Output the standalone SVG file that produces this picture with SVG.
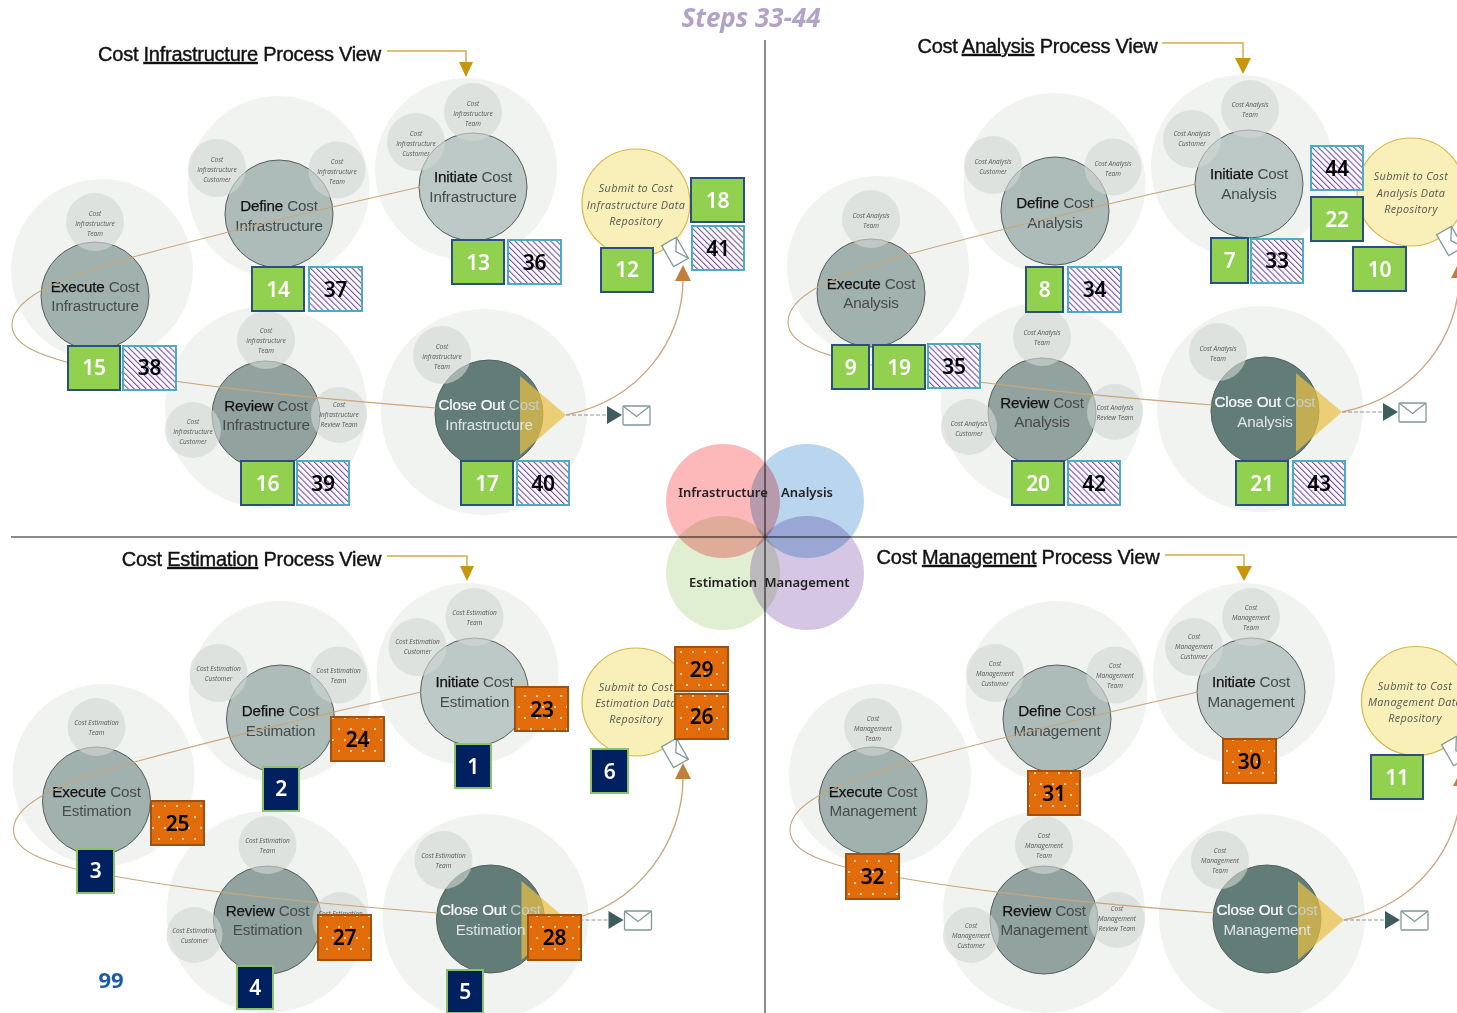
<svg xmlns="http://www.w3.org/2000/svg" width="1457" height="1013" viewBox="0 0 1457 1013">
<style>
text{font-family:"Liberation Sans",Arial,sans-serif;text-anchor:middle}
.h{fill:#f1f3f1}
.s{fill:#d2d6d4;opacity:.62}
.m{stroke:#565f5d;stroke-width:1}
.ex{fill:#a1b1ae}.de{fill:#aebcb9}.in{fill:#bdc9c6}.re{fill:#92a29f}.cl{fill:#627d78}
.t{font-size:15.2px;fill:#454b4a;letter-spacing:-.15px}
.t .k{fill:#111;stroke:#111;stroke-width:.25px}
.w{fill:#dfe6e4}.w .k{fill:#fff;stroke:#fff;stroke-width:.2px}.w .f{fill:#c4cfca}
.c{font-family:"Open Sans","Liberation Sans",sans-serif;font-size:6.5px;font-style:italic;fill:#555}
.tri{fill:#e9bf45;opacity:.72}
.sub{fill:#f8f0b8;stroke:#d8b84c;stroke-width:1.2}
.st{font-family:"Open Sans","Liberation Sans",sans-serif;font-size:10.8px;font-style:italic;fill:#555;letter-spacing:.35px}
.env{fill:#fff;stroke:#7f9a98;stroke-width:1.3}
.flow{fill:none;stroke:#c9a679;stroke-width:1.1}
.dash{fill:none;stroke:#8a9896;stroke-width:1;stroke-dasharray:4 2}
.hd{fill:#c17f3c}.dk{fill:#3f5d5c}
.arc{fill:none;stroke:#cfa67f;stroke-width:1.4}
.ttl{font-size:20px;fill:#111;stroke:#111;stroke-width:.4px;letter-spacing:-.25px}
.u{text-decoration:underline}
.gold{fill:none;stroke:#d3ad4a;stroke-width:1.5}
.goldh{fill:#c8960c}
.axis{stroke:#666;stroke-width:1.5}
.vn{mix-blend-mode:multiply}
.vt{font-family:"Noto Sans","Open Sans",sans-serif;font-size:13px;font-weight:600;fill:#222}
.b text{font-family:"Noto Sans","Open Sans",sans-serif;font-size:21px;font-weight:600;letter-spacing:-.3px}
.g rect{fill:#92d050;stroke:#2a5082;stroke-width:2}.g text{fill:#fff}
.p rect{fill:url(#hatch);stroke:#4bacc6;stroke-width:2}.p text{fill:#000}
.o rect{fill:url(#dots);stroke:#a0500f;stroke-width:2}.o text{fill:#000}
.n rect{fill:#002060;stroke:#8cc168;stroke-width:2}.n text{fill:#fff}
</style>
<defs>
<pattern id="hatch" width="4.2" height="4.2" patternUnits="userSpaceOnUse" patternTransform="rotate(-45)"><rect width="4.2" height="4.2" fill="#fff"/><rect width="1.1" height="4.2" fill="#7a50a8"/></pattern>
<pattern id="dots" width="12" height="22" patternUnits="userSpaceOnUse"><rect width="12" height="22" fill="#e36c0a"/><circle cx="3" cy="3" r=".9" fill="#fff"/><circle cx="9" cy="14" r=".9" fill="#fff"/></pattern>
<g id="envelope"><rect x="-13.5" y="-9.5" width="27" height="19" rx="1" class="env"/><path d="M-13.5-9.5 0 1 13.5-9.5" class="env" style="fill:none"/></g>
<g id="docenv"><rect x="-8.5" y="-12" width="17" height="24" class="env"/><path d="M8.5-12 1 0 8.5 12" class="env" style="fill:none"/></g>
<g id="flowset">
<path class="flow" d="M420,187C330,207 240,228 133,257C70,275 12,295 12,325C12,345 40,355 70,363C180,386 310,398 436,408"/>
<path class="dash" d="M566,415H607"/>
<path class="dk" d="M607,406 622,415 607,424Z"/>
<use href="#envelope" x="636.5" y="415.5"/>
</g>
<g id="arcset">
<path class="arc" d="M566,415C640,400 683,340 683,280"/>
<path class="hd" d="M683,265 691,281 675,281Z"/>
</g>
</defs>

<g id="axes"><line class="axis" x1="765" y1="40" x2="765" y2="1013"/><line class="axis" x1="11" y1="537" x2="1457" y2="537"/></g>
<text x="751" y="27" style="font-family:'Open Sans',sans-serif;font-size:26px;font-weight:700;font-style:italic;fill:#b3a2c7">Steps 33-44</text>

<g id="nodes-infrastructure">
<g id="i-execute"><circle class="h" cx="102" cy="270" r="91"/><circle class="m ex" cx="95" cy="296" r="54"/><circle class="s" cx="95" cy="222" r="29"/><text class="c" x="95" y="216">Cost</text><text class="c" x="95" y="226">Infrastructure</text><text class="c" x="95" y="236">Team</text><text class="t" x="95" y="292"><tspan class="k">Execute</tspan> Cost</text><text class="t" x="95" y="311">Infrastructure</text></g>
<g id="i-define"><circle class="h" cx="278.5" cy="187" r="91"/><circle class="m de" cx="279" cy="214" r="54"/><circle class="s" cx="217" cy="168" r="29"/><circle class="s" cx="337" cy="170" r="28.5"/><text class="c" x="217" y="162">Cost</text><text class="c" x="217" y="172">Infrastructure</text><text class="c" x="217" y="182">Customer</text><text class="c" x="337" y="164">Cost</text><text class="c" x="337" y="174">Infrastructure</text><text class="c" x="337" y="184">Team</text><text class="t" x="279" y="211"><tspan class="k">Define</tspan> Cost</text><text class="t" x="279" y="231">Infrastructure</text></g>
<g id="i-initiate"><circle class="h" cx="466" cy="169" r="91"/><circle class="m in" cx="473" cy="187" r="54"/><circle class="s" cx="473" cy="112" r="29"/><circle class="s" cx="416" cy="142" r="29"/><text class="c" x="473" y="106">Cost</text><text class="c" x="473" y="116">Infrastructure</text><text class="c" x="473" y="126">Team</text><text class="c" x="416" y="136">Cost</text><text class="c" x="416" y="146">Infrastructure</text><text class="c" x="416" y="156">Customer</text><text class="t" x="473" y="182"><tspan class="k">Initiate</tspan> Cost</text><text class="t" x="473" y="202">Infrastructure</text></g>
<g id="i-review"><circle class="h" cx="266" cy="407" r="101"/><circle class="m re" cx="266" cy="415" r="54"/><circle class="s" cx="266" cy="340" r="29"/><circle class="s" cx="193" cy="430" r="28"/><circle class="s" cx="339" cy="415" r="28"/><text class="c" x="266" y="333">Cost</text><text class="c" x="266" y="343">Infrastructure</text><text class="c" x="266" y="353">Team</text><text class="c" x="193" y="424">Cost</text><text class="c" x="193" y="434">Infrastructure</text><text class="c" x="193" y="444">Customer</text><text class="c" x="339" y="407">Cost</text><text class="c" x="339" y="417">Infrastructure</text><text class="c" x="339" y="427">Review Team</text><text class="t" x="266" y="411"><tspan class="k">Review</tspan> Cost</text><text class="t" x="266" y="430">Infrastructure</text></g>
<g id="i-close"><circle class="h" cx="484" cy="412" r="103"/><circle class="m cl" cx="489" cy="414" r="54"/><circle class="s" cx="442" cy="355" r="29"/><text class="c" x="442" y="349">Cost</text><text class="c" x="442" y="359">Infrastructure</text><text class="c" x="442" y="369">Team</text><path class="tri" d="M520,376 566,415 520,455Z"/><text class="t w" x="489" y="410"><tspan class="k">Close Out</tspan> <tspan class="f">Cost</tspan></text><text class="t w" x="489" y="430">Infrastructure</text></g>
<g id="i-submit"><circle class="sub" cx="636" cy="203" r="54"/><text class="st" x="636" y="192">Submit to Cost</text><text class="st" x="636" y="209">Infrastructure Data</text><text class="st" x="636" y="225">Repository</text><use href="#docenv" transform="translate(675,252) rotate(-30)"/></g>
</g>

<g id="nodes-analysis">
<g transform="translate(776,-3)">
<g id="a-execute"><circle class="h" cx="102" cy="270" r="91"/><circle class="m ex" cx="95" cy="296" r="54"/><circle class="s" cx="95" cy="222" r="29"/><text class="c" x="95" y="221">Cost Analysis</text><text class="c" x="95" y="231">Team</text><text class="t" x="95" y="292"><tspan class="k">Execute</tspan> Cost</text><text class="t" x="95" y="311">Analysis</text></g>
<g id="a-define"><circle class="h" cx="278.5" cy="187" r="91"/><circle class="m de" cx="279" cy="214" r="54"/><circle class="s" cx="217" cy="168" r="29"/><circle class="s" cx="337" cy="170" r="28.5"/><text class="c" x="217" y="167">Cost Analysis</text><text class="c" x="217" y="177">Customer</text><text class="c" x="337" y="169">Cost Analysis</text><text class="c" x="337" y="179">Team</text><text class="t" x="279" y="211"><tspan class="k">Define</tspan> Cost</text><text class="t" x="279" y="231">Analysis</text></g>
<g id="a-initiate"><circle class="h" cx="466" cy="169" r="91"/><circle class="m in" cx="473" cy="187" r="54"/><circle class="s" cx="474" cy="112" r="29"/><circle class="s" cx="416" cy="142" r="29"/><text class="c" x="474" y="110">Cost Analysis</text><text class="c" x="474" y="120">Team</text><text class="c" x="416" y="139">Cost Analysis</text><text class="c" x="416" y="149">Customer</text><text class="t" x="473" y="182"><tspan class="k">Initiate</tspan> Cost</text><text class="t" x="473" y="202">Analysis</text></g>
<g id="a-review"><circle class="h" cx="266" cy="407" r="101"/><circle class="m re" cx="266" cy="415" r="54"/><circle class="s" cx="266" cy="340" r="29"/><circle class="s" cx="193" cy="430" r="28"/><circle class="s" cx="339" cy="415" r="28"/><text class="c" x="266" y="338">Cost Analysis</text><text class="c" x="266" y="348">Team</text><text class="c" x="193" y="429">Cost Analysis</text><text class="c" x="193" y="439">Customer</text><text class="c" x="339" y="413">Cost Analysis</text><text class="c" x="339" y="423">Review Team</text><text class="t" x="266" y="411"><tspan class="k">Review</tspan> Cost</text><text class="t" x="266" y="430">Analysis</text></g>
<g id="a-close"><circle class="h" cx="484" cy="412" r="103"/><circle class="m cl" cx="489" cy="414" r="54"/><circle class="s" cx="442" cy="355" r="29"/><text class="c" x="442" y="354">Cost Analysis</text><text class="c" x="442" y="364">Team</text><path class="tri" d="M520,376 566,415 520,455Z"/><text class="t w" x="489" y="410"><tspan class="k">Close Out</tspan> <tspan class="f">Cost</tspan></text><text class="t w" x="489" y="430">Analysis</text></g>
</g>
<g id="a-submit"><circle class="sub" cx="1411" cy="192" r="54"/><text class="st" x="1411" y="180">Submit to Cost</text><text class="st" x="1411" y="197">Analysis Data</text><text class="st" x="1411" y="213">Repository</text><use href="#docenv" transform="translate(1450,241) rotate(-30)"/></g>
</g>

<g id="nodes-estimation">
<g transform="translate(1.5,505)">
<g id="e-execute"><circle class="h" cx="102" cy="270" r="91"/><circle class="m ex" cx="95" cy="296" r="54"/><circle class="s" cx="95" cy="222" r="29"/><text class="c" x="95" y="220">Cost Estimation</text><text class="c" x="95" y="230">Team</text><text class="t" x="95" y="292"><tspan class="k">Execute</tspan> Cost</text><text class="t" x="95" y="311">Estimation</text></g>
<g id="e-define"><circle class="h" cx="278.5" cy="187" r="91"/><circle class="m de" cx="279" cy="214" r="54"/><circle class="s" cx="217" cy="168" r="29"/><circle class="s" cx="337" cy="170" r="28.5"/><text class="c" x="217" y="166">Cost Estimation</text><text class="c" x="217" y="176">Customer</text><text class="c" x="337" y="168">Cost Estimation</text><text class="c" x="337" y="178">Team</text><text class="t" x="279" y="211"><tspan class="k">Define</tspan> Cost</text><text class="t" x="279" y="231">Estimation</text></g>
<g id="e-initiate"><circle class="h" cx="466" cy="169" r="91"/><circle class="m in" cx="473" cy="187" r="54"/><circle class="s" cx="473" cy="112" r="29"/><circle class="s" cx="416" cy="142" r="29"/><text class="c" x="473" y="110">Cost Estimation</text><text class="c" x="473" y="120">Team</text><text class="c" x="416" y="139">Cost Estimation</text><text class="c" x="416" y="149">Customer</text><text class="t" x="473" y="182"><tspan class="k">Initiate</tspan> Cost</text><text class="t" x="473" y="202">Estimation</text></g>
<g id="e-review"><circle class="h" cx="266" cy="407" r="101"/><circle class="m re" cx="266" cy="415" r="54"/><circle class="s" cx="266" cy="340" r="29"/><circle class="s" cx="193" cy="430" r="28"/><circle class="s" cx="339" cy="415" r="28"/><text class="c" x="266" y="338">Cost Estimation</text><text class="c" x="266" y="348">Team</text><text class="c" x="193" y="428">Cost Estimation</text><text class="c" x="193" y="438">Customer</text><text class="c" x="339" y="411">Cost Estimation</text><text class="t" x="266" y="411"><tspan class="k">Review</tspan> Cost</text><text class="t" x="266" y="430">Estimation</text></g>
<g id="e-close"><circle class="h" cx="484" cy="412" r="103"/><circle class="m cl" cx="489" cy="414" r="54"/><circle class="s" cx="442" cy="355" r="29"/><text class="c" x="442" y="353">Cost Estimation</text><text class="c" x="442" y="363">Team</text><path class="tri" d="M520,376 566,415 520,455Z"/><text class="t w" x="489" y="410"><tspan class="k">Close Out</tspan> <tspan class="f">Cost</tspan></text><text class="t w" x="489" y="430">Estimation</text></g>
</g>
<g id="e-submit"><circle class="sub" cx="636" cy="702" r="54"/><text class="st" x="636" y="691">Submit to Cost</text><text class="st" x="636" y="707">Estimation Data</text><text class="st" x="636" y="723">Repository</text><use href="#docenv" transform="translate(675,753) rotate(-30)"/></g>
</g>

<g id="nodes-management">
<g transform="translate(778,505)">
<g id="m-execute"><circle class="h" cx="102" cy="270" r="91"/><circle class="m ex" cx="95" cy="296" r="54"/><circle class="s" cx="95" cy="222" r="29"/><text class="c" x="95" y="216">Cost</text><text class="c" x="95" y="226">Management</text><text class="c" x="95" y="236">Team</text><text class="t" x="95" y="292"><tspan class="k">Execute</tspan> Cost</text><text class="t" x="95" y="311">Management</text></g>
<g id="m-define"><circle class="h" cx="278.5" cy="187" r="91"/><circle class="m de" cx="279" cy="214" r="54"/><circle class="s" cx="217" cy="168" r="29"/><circle class="s" cx="337" cy="170" r="28.5"/><text class="c" x="217" y="161">Cost</text><text class="c" x="217" y="171">Management</text><text class="c" x="217" y="181">Customer</text><text class="c" x="337" y="163">Cost</text><text class="c" x="337" y="173">Management</text><text class="c" x="337" y="183">Team</text><text class="t" x="279" y="211"><tspan class="k">Define</tspan> Cost</text><text class="t" x="279" y="231">Management</text></g>
<g id="m-initiate"><circle class="h" cx="466" cy="169" r="91"/><circle class="m in" cx="473" cy="187" r="54"/><circle class="s" cx="473" cy="112" r="29"/><circle class="s" cx="416" cy="142" r="29"/><text class="c" x="473" y="105">Cost</text><text class="c" x="473" y="115">Management</text><text class="c" x="473" y="125">Team</text><text class="c" x="416" y="134">Cost</text><text class="c" x="416" y="144">Management</text><text class="c" x="416" y="154">Customer</text><text class="t" x="473" y="182"><tspan class="k">Initiate</tspan> Cost</text><text class="t" x="473" y="202">Management</text></g>
<g id="m-review"><circle class="h" cx="266" cy="407" r="101"/><circle class="m re" cx="266" cy="415" r="54"/><circle class="s" cx="266" cy="340" r="29"/><circle class="s" cx="193" cy="430" r="28"/><circle class="s" cx="339" cy="415" r="28"/><text class="c" x="266" y="333">Cost</text><text class="c" x="266" y="343">Management</text><text class="c" x="266" y="353">Team</text><text class="c" x="193" y="423">Cost</text><text class="c" x="193" y="433">Management</text><text class="c" x="193" y="443">Customer</text><text class="c" x="339" y="406">Cost</text><text class="c" x="339" y="416">Management</text><text class="c" x="339" y="426">Review Team</text><text class="t" x="266" y="411"><tspan class="k">Review</tspan> Cost</text><text class="t" x="266" y="430">Management</text></g>
<g id="m-close"><circle class="h" cx="484" cy="412" r="103"/><circle class="m cl" cx="489" cy="414" r="54"/><circle class="s" cx="442" cy="355" r="29"/><text class="c" x="442" y="348">Cost</text><text class="c" x="442" y="358">Management</text><text class="c" x="442" y="368">Team</text><path class="tri" d="M520,376 566,415 520,455Z"/><text class="t w" x="489" y="410"><tspan class="k">Close Out</tspan> <tspan class="f">Cost</tspan></text><text class="t w" x="489" y="430">Management</text></g>
</g>
<g id="m-submit"><circle class="sub" cx="1416" cy="701" r="54.500"/><text class="st" x="1415" y="690">Submit to Cost</text><text class="st" x="1415" y="706">Management Data</text><text class="st" x="1415" y="722">Repository</text><use href="#docenv" transform="translate(1455,751) rotate(-30)"/></g>
</g>

<g id="connectors">
<use href="#flowset"/><use href="#arcset"/>
<use href="#flowset" transform="translate(776,-3)"/><use href="#arcset" transform="translate(776,-3)"/>
<use href="#flowset" transform="translate(1.5,505)"/>
<path class="arc" d="M567.5,920C640,905 683,840 683,778"/><path class="hd" d="M683,763 691,779 675,779Z"/>
<use href="#flowset" transform="translate(778,505)"/><use href="#arcset" transform="translate(778,505)"/>
<path class="gold" d="M387,51H466V62"/><path class="goldh" d="M459,62H473L466,77Z"/>
<path class="gold" d="M1162,43H1243V58"/><path class="goldh" d="M1235,58H1251L1243,74Z"/>
<path class="gold" d="M387,556H467V566"/><path class="goldh" d="M460,566H474L467,581Z"/>
<path class="gold" d="M1165,555H1244V566"/><path class="goldh" d="M1236,566H1252L1244,581Z"/>
</g>

<g id="titles">
<text class="ttl" x="239.500" y="61">Cost <tspan class="u">Infrastructure</tspan> Process View</text>
<text class="ttl" x="1037.500" y="53">Cost <tspan class="u">Analysis</tspan> Process View</text>
<text class="ttl" x="251.500" y="566">Cost <tspan class="u">Estimation</tspan> Process View</text>
<text class="ttl" x="1018" y="564">Cost <tspan class="u">Management</tspan> Process View</text>
</g>

<g id="venn">
<circle class="vn" cx="723" cy="573" r="57" fill="#e0eed2"/>
<circle class="vn" cx="807" cy="573" r="57" fill="#d5c6e4"/>
<circle class="vn" cx="723" cy="501" r="57" fill="#fdb9b9"/>
<circle class="vn" cx="807" cy="501" r="57" fill="#b9d6ee"/>
<text class="vt" x="723" y="497">Infrastructure</text><text class="vt" x="807" y="497">Analysis</text>
<text class="vt" x="723" y="587">Estimation</text><text class="vt" x="807" y="587">Management</text>
</g>

<g id="badges" class="b">
<g id="b12" class="g"><rect x="601" y="248" width="52" height="44"/><text x="627" y="277">12</text></g>
<g id="b13" class="g"><rect x="452" y="240" width="52" height="44"/><text x="478" y="270">13</text></g>
<g id="b14" class="g"><rect x="252" y="267" width="52" height="44"/><text x="278" y="297">14</text></g>
<g id="b15" class="g"><rect x="68" y="346" width="52" height="44"/><text x="94" y="375">15</text></g>
<g id="b16" class="g"><rect x="241" y="461" width="53" height="44"/><text x="267.500" y="491">16</text></g>
<g id="b17" class="g"><rect x="461" y="461" width="52" height="44"/><text x="487" y="491">17</text></g>
<g id="b18" class="g"><rect x="691" y="178" width="53" height="44"/><text x="717.500" y="208">18</text></g>
<g id="b36" class="p"><rect x="508" y="240" width="53" height="44"/><text x="534.500" y="270">36</text></g>
<g id="b37" class="p"><rect x="309" y="267" width="53" height="44"/><text x="335.500" y="297">37</text></g>
<g id="b38" class="p"><rect x="123" y="346" width="53" height="44"/><text x="149.500" y="375">38</text></g>
<g id="b39" class="p"><rect x="297" y="461" width="52" height="44"/><text x="323" y="491">39</text></g>
<g id="b40" class="p"><rect x="517" y="461" width="52" height="44"/><text x="543" y="491">40</text></g>
<g id="b41" class="p"><rect x="692" y="226" width="52" height="44"/><text x="718" y="256">41</text></g>
<g id="b7" class="g"><rect x="1211" y="238" width="37" height="45"/><text x="1229.500" y="268">7</text></g>
<g id="b8" class="g"><rect x="1026" y="267" width="37" height="45"/><text x="1044.500" y="297">8</text></g>
<g id="b9" class="g"><rect x="832" y="345" width="37" height="44"/><text x="850.500" y="375">9</text></g>
<g id="b10" class="g"><rect x="1353" y="247" width="53" height="44"/><text x="1379.500" y="277">10</text></g>
<g id="b19" class="g"><rect x="873" y="345" width="52" height="44"/><text x="899" y="375">19</text></g>
<g id="b20" class="g"><rect x="1012" y="461" width="52" height="44"/><text x="1038" y="491">20</text></g>
<g id="b21" class="g"><rect x="1236" y="461" width="52" height="44"/><text x="1262" y="491">21</text></g>
<g id="b22" class="g"><rect x="1311" y="197" width="52" height="44"/><text x="1337" y="227">22</text></g>
<g id="b33" class="p"><rect x="1251" y="239" width="52" height="44"/><text x="1277" y="268">33</text></g>
<g id="b34" class="p"><rect x="1068" y="267" width="53" height="45"/><text x="1094.500" y="297">34</text></g>
<g id="b35" class="p"><rect x="928" y="344" width="52" height="44"/><text x="954" y="374">35</text></g>
<g id="b42" class="p"><rect x="1068" y="461" width="52" height="44"/><text x="1094" y="491">42</text></g>
<g id="b43" class="p"><rect x="1293" y="461" width="52" height="44"/><text x="1319" y="491">43</text></g>
<g id="b44" class="p"><rect x="1311" y="146" width="52" height="44"/><text x="1337" y="176">44</text></g>
<g id="b1" class="n"><rect x="455" y="744" width="36" height="44"/><text x="473" y="774">1</text></g>
<g id="b2" class="n"><rect x="263" y="767" width="36" height="44"/><text x="281" y="796">2</text></g>
<g id="b3" class="n"><rect x="77" y="849" width="37" height="44"/><text x="95.500" y="878">3</text></g>
<g id="b4" class="n"><rect x="237" y="966" width="36" height="43"/><text x="255" y="995">4</text></g>
<g id="b5" class="n"><rect x="447" y="970" width="36" height="43"/><text x="465" y="999">5</text></g>
<g id="b6" class="n"><rect x="591" y="749" width="37" height="44"/><text x="609.500" y="779">6</text></g>
<g id="b23" class="o"><rect x="515" y="687" width="53" height="44"/><text x="542" y="717">23</text></g>
<g id="b24" class="o"><rect x="331" y="717" width="53" height="44"/><text x="357.500" y="747">24</text></g>
<g id="b25" class="o"><rect x="151" y="801" width="53" height="44"/><text x="177.500" y="831">25</text></g>
<g id="b26" class="o"><rect x="675" y="694" width="53" height="45"/><text x="701.500" y="724">26</text></g>
<g id="b27" class="o"><rect x="318" y="915" width="53" height="45"/><text x="344.500" y="945">27</text></g>
<g id="b28" class="o"><rect x="528" y="915" width="53" height="45"/><text x="554.500" y="945">28</text></g>
<g id="b29" class="o"><rect x="675" y="647" width="53" height="44"/><text x="701.500" y="677">29</text></g>
<g id="b11" class="g"><rect x="1371" y="755" width="52" height="44"/><text x="1397" y="785">11</text></g>
<g id="b30" class="o"><rect x="1223" y="739" width="53" height="44"/><text x="1249.500" y="769">30</text></g>
<g id="b31" class="o"><rect x="1028" y="771" width="52" height="44"/><text x="1054" y="801">31</text></g>
<g id="b32" class="o"><rect x="846" y="854" width="53" height="45"/><text x="872.500" y="884">32</text></g>
</g>
<text x="111" y="988" style="font-family:'Open Sans',sans-serif;font-size:22px;font-weight:700;fill:#1a5ca8">99</text>
</svg>
